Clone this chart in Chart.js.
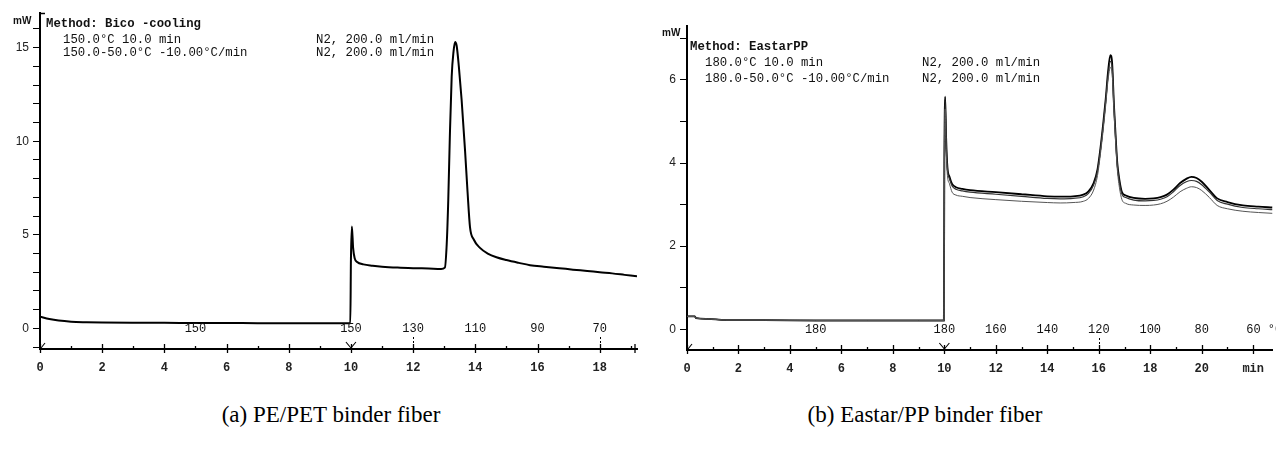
<!DOCTYPE html>
<html><head><meta charset="utf-8">
<script src="https://cdn.jsdelivr.net/npm/chart.js@4.4.1/dist/chart.umd.min.js"></script>
<style>
body{margin:0;background:#fff;width:1276px;height:450px;overflow:hidden;position:relative;}
canvas{position:absolute;top:0;}
.t{position:absolute;font-family:"Liberation Mono",monospace;font-size:12.3px;line-height:12px;color:#111;white-space:pre;}
.b{font-weight:bold;}
.mw{position:absolute;font-family:"Liberation Sans",sans-serif;font-size:10px;font-weight:bold;line-height:10px;color:#111;}
.cap{position:absolute;font-family:"Liberation Serif","Times New Roman",serif;font-size:23px;line-height:26px;color:#000;white-space:nowrap;transform:translateX(-50%);top:402px;}
</style></head><body>
<canvas id="c1" width="645" height="395" style="left:0"></canvas>
<canvas id="c2" width="629" height="395" style="left:647px"></canvas>

<div class="mw" style="left:13px;top:16px">mW</div>
<div class="t b" style="left:46px;top:18px">Method: Bico -cooling</div>
<div class="t" style="left:63px;top:34px">150.0°C 10.0 min</div>
<div class="t" style="left:63px;top:47px">150.0-50.0°C -10.00°C/min</div>
<div class="t" style="left:316px;top:34px">N2, 200.0 ml/min</div>
<div class="t" style="left:316px;top:47px">N2, 200.0 ml/min</div>

<div class="mw" style="left:662px;top:28px">mW</div>
<div class="t b" style="left:690px;top:41px">Method: EastarPP</div>
<div class="t" style="left:705px;top:57px">180.0°C 10.0 min</div>
<div class="t" style="left:705px;top:73px">180.0-50.0°C -10.00°C/min</div>
<div class="t" style="left:922px;top:57px">N2, 200.0 ml/min</div>
<div class="t" style="left:922px;top:73px">N2, 200.0 ml/min</div>

<div class="cap" style="left:331px">(a) PE/PET binder fiber</div>
<div class="cap" style="left:925px">(b) Eastar/PP binder fiber</div>

<script>
// ---- (a) PE/PET binder fiber ----
const timeA = [0,0.3,0.6,1.0,1.5,2,3,4,5,6,7,8,9,9.98,10.0,10.03,10.07,10.12,10.2,10.4,10.7,11,11.5,12,12.5,12.9,13.02,13.08,13.13,13.18,13.24,13.3,13.35,13.4,13.47,13.56,13.67,13.75,13.83,13.95,14.15,14.4,14.68,15.0,15.4,15.76,16.2,16.7,17.14,17.6,18.0,18.4,18.8,19.2];
const heatA = [0.62,0.5,0.42,0.36,0.33,0.31,0.3,0.3,0.29,0.29,0.28,0.28,0.28,0.28,3.7,5.45,4.3,3.75,3.55,3.42,3.35,3.3,3.25,3.22,3.2,3.18,3.25,4.5,6.85,10.2,13.45,14.8,15.3,15.1,14.0,12.2,9.5,7.3,5.4,4.75,4.3,4.0,3.8,3.65,3.5,3.38,3.3,3.22,3.14,3.07,3.0,2.94,2.86,2.78];
const tempTimesA = [5,10,12,14,16,18];
const tempLabelsA = ['150','150','130','110','90','70'];
const yLabelsA = [0,5,10,15];
const xLabelsA = [0,2,4,6,8,10,12,14,16,18];

// ---- (b) Eastar/PP binder fiber ----
const timeB = [0,0.3,0.35,0.8,1.5,3,5,7,9,9.98,10.0,10.03,10.07,10.12,10.2,10.3,10.45,10.7,11,12,13,14,14.5,15,15.4,15.6,15.8,15.95,16.07,16.18,16.27,16.36,16.45,16.52,16.59,16.66,16.72,16.8,16.9,17.05,17.36,17.8,18.13,18.4,18.65,18.9,19.16,19.4,19.6,19.8,20.0,20.3,20.6,21.0,21.6,22.2,22.75];
const heatB1 = [0.31,0.31,0.27,0.25,0.22,0.22,0.21,0.21,0.21,0.21,4.0,5.6,4.6,3.9,3.67,3.5,3.42,3.38,3.35,3.3,3.25,3.2,3.19,3.2,3.24,3.32,3.52,3.85,4.39,5.0,5.55,6.2,6.6,6.4,5.4,4.6,4.0,3.6,3.3,3.22,3.16,3.14,3.15,3.18,3.24,3.36,3.52,3.62,3.67,3.64,3.55,3.35,3.15,3.06,2.98,2.95,2.93];
const heatB2 = [0.31,0.31,0.27,0.25,0.22,0.22,0.21,0.21,0.21,0.21,4.0,5.5,4.5,3.85,3.62,3.45,3.37,3.33,3.3,3.25,3.2,3.15,3.14,3.15,3.19,3.27,3.47,3.8,4.34,4.95,5.5,6.1,6.45,6.3,5.35,4.55,3.95,3.55,3.25,3.17,3.11,3.09,3.1,3.13,3.19,3.31,3.46,3.55,3.58,3.56,3.48,3.3,3.1,3.01,2.93,2.9,2.88];
const heatB3 = [0.31,0.31,0.27,0.25,0.22,0.22,0.21,0.21,0.21,0.21,3.8,5.3,4.3,3.7,3.5,3.3,3.23,3.2,3.17,3.12,3.08,3.05,3.04,3.05,3.08,3.15,3.35,3.7,4.25,4.85,5.4,6.0,6.3,6.15,5.25,4.45,3.85,3.42,3.12,3.03,2.99,2.98,2.99,3.02,3.08,3.18,3.31,3.39,3.43,3.41,3.34,3.17,2.98,2.9,2.84,2.81,2.79];
const tempTimesB = [5,10,12,14,16,18,20,22];
const tempLabelsB = ['180','180','160','140','120','100','80','60 °C'];
const yLabelsB = [0,2,4,6];
const xLabelsB = {0:'0',2:'2',4:'4',6:'6',8:'8',10:'10',12:'12',14:'14',16:'16',18:'18',20:'20',22:'min'};

const pts = (ts, vs) => ts.map((t,i)=>({x:t, y:vs[i]}));

function decor(o){
  return {id:'decor', afterDatasetsDraw(chart){
    const {ctx, chartArea:a, scales:{x}} = chart;
    const ay = a.bottom;
    ctx.save();
    ctx.strokeStyle = '#000'; ctx.lineWidth = 1.3;
    for (let t = Math.ceil(x.min); t <= x.max; t++) {
      const px = Math.round(x.getPixelForValue(t)) + 0.5;
      const up = t % 2 === 0 ? 5 : 3, dn = t % 2 === 0 ? 4 : 1;
      ctx.beginPath(); ctx.moveTo(px, ay-up); ctx.lineTo(px, ay+dn); ctx.stroke();
    }
    ctx.lineWidth = 1; ctx.setLineDash([2,2]);
    o.dashAt.forEach(t=>{ const px=Math.round(x.getPixelForValue(t))+0.5; ctx.beginPath(); ctx.moveTo(px, ay-12); ctx.lineTo(px, ay+4); ctx.stroke(); });
    ctx.setLineDash([]);
    if (o.endMark) { ctx.lineWidth = 1.3; const ex = a.right-2; ctx.beginPath(); ctx.moveTo(ex, ay-5); ctx.lineTo(ex, ay+4); ctx.stroke(); }
    const mx = x.getPixelForValue(10);
    ctx.lineWidth = 1.1;
    ctx.beginPath(); ctx.moveTo(mx-5, ay-7); ctx.lineTo(mx, ay-1); ctx.lineTo(mx+5, ay-7); ctx.stroke();
    ctx.beginPath(); ctx.moveTo(a.left+1, ay-1); ctx.lineTo(a.left+5, ay-6); ctx.stroke();
    if (o.bracket) { ctx.lineWidth=1.5; ctx.beginPath(); ctx.moveTo(a.left, a.top+0.5); ctx.lineTo(a.left+5, a.top+0.5); ctx.stroke(); }
    ctx.fillStyle = '#111'; ctx.font = '12px "Liberation Mono", monospace';
    ctx.textAlign = 'center'; ctx.textBaseline = 'middle';
    o.tempTimes.forEach((t,i)=>{
      const lab = o.tempLabels[i];
      const px = x.getPixelForValue(t);
      if (lab.length > 3) { ctx.textAlign='left'; ctx.fillText(lab, px-7, ay-20); ctx.textAlign='center'; }
      else ctx.fillText(lab, px, ay-20);
    });
    ctx.restore();
  }};
}

function axisOpts(xmin, xmax, ymin, ymax, xcb, ycb, xh){
  return {
    x: {type:'linear', min:xmin, max:xmax,
        afterFit(s){ s.height = xh; },
        grid:{display:false, drawTicks:false},
        border:{display:true, color:'#000', width:2},
        ticks:{stepSize:1, autoSkip:false, maxRotation:0, includeBounds:false, padding:12, color:'#222',
               font:{family:'"Liberation Mono", monospace', size:12, weight:'bold'}, callback:xcb}},
    y: {type:'linear', min:ymin, max:ymax,
        afterFit(s){ s.width = 40; },
        grid:{display:true, drawOnChartArea:false, drawTicks:true, tickLength:7, color:'#000', lineWidth:1},
        border:{display:true, color:'#000', width:2},
        ticks:{stepSize:1, autoSkip:false, includeBounds:false, padding:4, color:'#222',
               font:{family:'"Liberation Sans", Arial, sans-serif', size:12}, callback:ycb}}
  };
}

new Chart(document.getElementById('c1'), {
  type:'line',
  data:{datasets:[{data:pts(timeA, heatA), borderColor:'#000', borderWidth:2, pointRadius:0, cubicInterpolationMode:'monotone', fill:false}]},
  options:{
    responsive:false, animation:false, devicePixelRatio:1,
    layout:{padding:{top:13, right:8, left:0, bottom:0}},
    plugins:{legend:{display:false}, tooltip:{enabled:false}},
    scales: axisOpts(0, 19.2, -1.1, 16.85,
      v => xLabelsA.includes(v) ? String(v) : '',
      v => yLabelsA.includes(v) ? String(v) : '', 46)
  },
  plugins:[decor({tempTimes:tempTimesA, tempLabels:tempLabelsA, dashAt:[12,18], endMark:true, bracket:true})]
});

new Chart(document.getElementById('c2'), {
  type:'line',
  data:{datasets:[
    {data:pts(timeB, heatB3), borderColor:'#555', borderWidth:1, pointRadius:0, cubicInterpolationMode:'monotone', fill:false},
    {data:pts(timeB, heatB2), borderColor:'#333', borderWidth:1.2, pointRadius:0, cubicInterpolationMode:'monotone', fill:false},
    {data:pts(timeB, heatB1), borderColor:'#000', borderWidth:1.8, pointRadius:0, cubicInterpolationMode:'monotone', fill:false}
  ]},
  options:{
    responsive:false, animation:false, devicePixelRatio:1,
    layout:{padding:{top:26, right:0, left:0, bottom:0}},
    plugins:{legend:{display:false}, tooltip:{enabled:false}},
    scales: axisOpts(0, 22.75, -0.5, 7.3,
      v => (v in xLabelsB) ? xLabelsB[v] : '',
      v => yLabelsB.includes(v) ? String(v) : '', 45)
  },
  plugins:[decor({tempTimes:tempTimesB, tempLabels:tempLabelsB, dashAt:[16], endMark:false, bracket:false})]
});
</script>
</body></html>
